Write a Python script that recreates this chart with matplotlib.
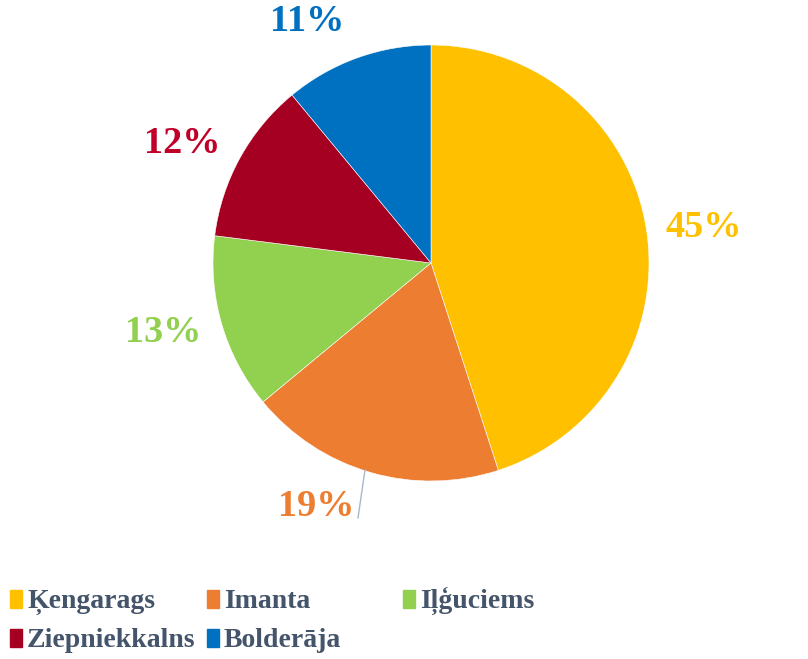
import matplotlib.pyplot as plt
from matplotlib.patches import Rectangle
import numpy as np

plt.rcParams['font.family'] = ['Liberation Serif', 'DejaVu Serif']

districts = ['Ķengarags', 'Imanta', 'Iļģuciems', 'Ziepniekkalns', 'Bolderāja']
shares = [45, 19, 13, 12, 11]
colors = ['#FFC000', '#ED7D31', '#92D050', '#A50021', '#0070C0']
label_colors = ['#FFC000', '#ED7D31', '#92D050', '#C00028', '#0070C0']

# label centres in radius units (as placed in the original)
label_pos = [(1.252, 0.165), (-0.528, -1.119), (-1.229, -0.321),
             (-1.142, 0.550), (-0.569, 1.106)]

W, H = 808, 659
fig = plt.figure(figsize=(W / 100, H / 100), dpi=100)
cx, cy, r = 431, 263, 218
ax = fig.add_axes([(cx - r) / W, (H - cy - r) / H, 2 * r / W, 2 * r / H])

wedges, _ = ax.pie(shares, colors=colors, startangle=90, counterclock=False,
                   radius=1, wedgeprops=dict(edgecolor='white', linewidth=0.4))
ax.set_xlim(-1, 1)
ax.set_ylim(-1, 1)
ax.set_aspect('equal')
ax.axis('off')

for val, (lx, ly), c in zip(shares, label_pos, label_colors):
    ax.text(lx, ly, f'{val}%', ha='center', va='center', color=c,
            fontsize=27.5, fontweight='bold', clip_on=False)

# leader line for Imanta
ax.plot([(365 - cx) / r, (358 - cx) / r], [(cy - 470) / r, (cy - 518) / r],
        color='#A9B7CC', lw=1, clip_on=False)

# legend, drawn by hand to keep the fixed column grid
col_x = [10, 207, 403]
row_base = [608, 647]
for i, (name, c) in enumerate(zip(districts, colors)):
    x = col_x[i % 3]
    yb = row_base[i // 3]
    fig.patches.append(Rectangle((x / W, (H - yb) / H), 12 / W, 18 / H,
                                 transform=fig.transFigure, color=c))
    fig.text((x + 17) / W, (H - yb) / H, name, ha='left', va='baseline',
             color='#44546A', fontsize=20, fontweight='bold')

fig.savefig('out.png', dpi=100)
